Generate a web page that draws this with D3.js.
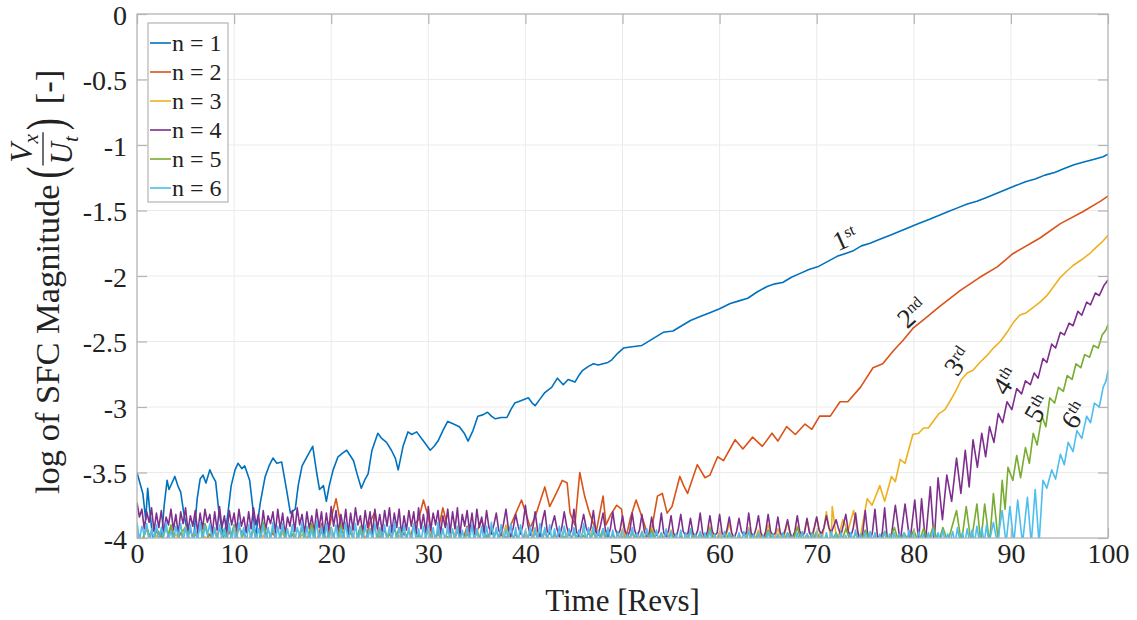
<!DOCTYPE html>
<html><head><meta charset="utf-8">
<script src="https://cdn.jsdelivr.net/npm/d3@7"></script>
<style>
body{margin:0;background:#fff}
svg text{font-family:"Liberation Serif","Times New Roman",serif;fill:#222}
</style>
</head><body>
<svg id="chart" width="1137" height="620"></svg>
<script>
// ---------------- data ----------------
const xTicks = [0,10,20,30,40,50,60,70,80,90,100];
const yTicks = [0,-0.5,-1,-1.5,-2,-2.5,-3,-3.5,-4];
const seriesNames = ["n = 1","n = 2","n = 3","n = 4","n = 5","n = 6"];
const seriesColors = ["#0072BD","#D95319","#EDB120","#7E2F8E","#77AC30","#4DBEEE"];
const ordinalNums = ["1","2","3","4","5","6"];
const ordinalSuffix = ["st","nd","rd","th","th","th"];
const ordinalAt = [[72.9,-1.71],[79.8,-2.28],[84.5,-2.65],[89.4,-2.80],[92.7,-3.01],[96.5,-3.06]];
const ordinalAngle = [-24,-42,-55,-58,-60,-58];

// n = 1 : [rev, log magnitude]
const n1Points = [[0,-3.50],[0.3,-3.58],[0.6,-3.66],[0.9,-3.86],[1.1,-3.62],[1.3,-3.78],[1.6,-3.99],[2.0,-4.03],[2.5,-4.03],[2.8,-3.75],[3.1,-3.56],[3.3,-3.63],[3.6,-3.58],[3.9,-3.53],[4.2,-3.60],[4.5,-3.65],[4.8,-3.80],[5.3,-4.0],[5.8,-4.03],[6.2,-3.70],[6.5,-3.55],[6.8,-3.52],[7.1,-3.58],[7.5,-3.48],[7.8,-3.53],[8.1,-3.57],[8.4,-3.78],[8.9,-4.0],[9.3,-3.85],[9.7,-3.60],[10.1,-3.48],[10.4,-3.43],[10.8,-3.47],[11.1,-3.45],[11.6,-3.56],[11.9,-3.75],[12.2,-4.0],[12.7,-3.73],[13.2,-3.53],[13.6,-3.45],[14.0,-3.39],[14.4,-3.43],[14.9,-3.42],[15.4,-3.63],[15.8,-3.81],[16.3,-3.78],[16.6,-3.60],[17.0,-3.45],[17.5,-3.38],[18.1,-3.30],[18.5,-3.50],[18.8,-3.63],[19.2,-3.60],[19.5,-3.72],[19.8,-3.60],[20.2,-3.48],[20.7,-3.38],[21.2,-3.35],[21.6,-3.33],[22.3,-3.41],[22.7,-3.52],[23.1,-3.62],[23.5,-3.55],[23.8,-3.51],[24.2,-3.33],[24.8,-3.20],[25.2,-3.24],[25.7,-3.27],[26.2,-3.33],[26.6,-3.39],[26.9,-3.48],[27.4,-3.30],[27.9,-3.19],[28.3,-3.21],[28.8,-3.19],[29.5,-3.26],[30.2,-3.33],[30.6,-3.30],[31.0,-3.26],[31.5,-3.18],[32.0,-3.11],[32.6,-3.13],[33.2,-3.15],[33.7,-3.20],[34.1,-3.26],[34.6,-3.18],[35.1,-3.07],[35.6,-3.06],[36.1,-3.04],[36.5,-3.07],[36.9,-3.09],[37.5,-3.08],[38.1,-3.08],[38.5,-3.02],[38.9,-2.97],[39.6,-2.95],[40.3,-2.93],[40.7,-2.97],[41.0,-2.99],[41.5,-2.94],[42.0,-2.89],[42.7,-2.85],[43.3,-2.78],[43.9,-2.83],[44.4,-2.79],[45.1,-2.81],[45.5,-2.76],[45.9,-2.72],[46.5,-2.69],[47.0,-2.67],[47.5,-2.68],[48.0,-2.67],[48.5,-2.66],[48.9,-2.64],[49.5,-2.59],[50.1,-2.55],[51.0,-2.54],[52.0,-2.53],[53.1,-2.48],[54.2,-2.43],[55.2,-2.42],[56.1,-2.38],[57.0,-2.34],[58.0,-2.31],[59.0,-2.28],[60.0,-2.25],[61.1,-2.21],[62.0,-2.19],[62.9,-2.17],[63.9,-2.12],[64.9,-2.08],[65.7,-2.06],[66.5,-2.05],[67.4,-2.01],[68.3,-1.98],[69.2,-1.95],[70.1,-1.93],[71.1,-1.89],[72.1,-1.85],[72.9,-1.83],[73.7,-1.81],[74.6,-1.77],[75.5,-1.75],[76.5,-1.72],[77.5,-1.69],[78.5,-1.66],[79.5,-1.63],[80.5,-1.60],[81.5,-1.57],[82.5,-1.54],[83.5,-1.51],[84.5,-1.48],[85.5,-1.45],[86.5,-1.43],[87.5,-1.40],[88.5,-1.37],[89.5,-1.34],[90.5,-1.31],[91.5,-1.28],[92.5,-1.26],[93.5,-1.23],[94.5,-1.21],[95.5,-1.18],[96.5,-1.15],[97.5,-1.13],[98.5,-1.11],[99.5,-1.09],[100,-1.07]];

// n = 2 : low-level part sampled every half rev from 0, then growth part
const n2LowStep = 0.5;
const n2Low = [-3.97,-4.03,-3.93,-4.04,-3.95,-3.99,-4.02,-3.92,-4.04,-3.96,
-4.03,-3.94,-4.04,-3.91,-4.02,-3.97,-4.04,-3.93,-4.03,-3.95,
-4.04,-3.92,-3.98,-4.03,-3.94,-4.04,-3.90,-4.02,-3.96,-4.04,
-3.93,-4.03,-3.97,-4.04,-3.91,-4.02,-3.94,-4.04,-3.89,-4.03,
-3.85,-3.70,-3.90,-4.03,-3.95,-4.04,-3.92,-4.02,-3.88,-3.80,
-4.02,-3.94,-4.04,-3.93,-4.03,-3.96,-4.04,-3.90,-3.86,-3.71,
-3.84,-4.03,-3.95,-3.77,-3.92,-4.04,-3.94,-4.03,-3.91,-4.04,
-3.95,-3.86,-4.02,-3.93,-4.04,-3.97,-4.03,-3.90];
const n2Rise = [[39.6,-3.71],[40.0,-3.80],[40.5,-3.92],[41.0,-3.84],[42.0,-3.61],[42.5,-3.76],[43.3,-3.64],[43.8,-3.56],[44.3,-3.58],[44.6,-3.81],[45.1,-3.90],[45.6,-3.50],[46.1,-3.68],[46.6,-3.81],[47.3,-3.95],[48.0,-3.68],[48.3,-3.90],[48.8,-3.82],[49.4,-3.75],[49.9,-3.78],[50.3,-4.02],[50.8,-3.85],[51.4,-3.71],[52.1,-3.86],[52.8,-4.02],[53.6,-3.68],[54.1,-3.66],[54.6,-3.81],[55.1,-3.76],[55.9,-3.53],[56.3,-3.60],[56.7,-3.66],[57.7,-3.44],[58.5,-3.54],[59.0,-3.52],[59.8,-3.38],[60.4,-3.41],[61.6,-3.25],[62.4,-3.32],[63.4,-3.23],[64.4,-3.30],[65.4,-3.20],[66.0,-3.26],[66.9,-3.15],[67.8,-3.21],[68.8,-3.13],[69.5,-3.17],[70.3,-3.07],[71.4,-3.07],[72.4,-2.96],[73.2,-2.96],[74.5,-2.85],[75.8,-2.70],[76.8,-2.67],[77.9,-2.57],[78.9,-2.49],[79.9,-2.40],[81.4,-2.31],[82.7,-2.23],[84.8,-2.11],[86.8,-2.01],[88.6,-1.93],[90.2,-1.83],[93.0,-1.71],[95.1,-1.60],[97.4,-1.51],[99.2,-1.43],[100,-1.39]];

// n = 3
const n3LowStep = 0.5;
const n3Low = [-3.96,-4.03,-3.92,-4.04,-3.98,-4.02,-3.93,-4.04,-3.97,-4.03,
-3.91,-4.04,-3.95,-4.02,-3.99,-4.04,-3.93,-4.03,-3.96,-4.04,
-3.90,-4.03,-3.97,-4.04,-3.94,-4.02,-3.98,-4.04,-3.92,-4.03,
-3.96,-4.04,-3.93,-4.03,-3.97,-4.04,-3.91,-4.02,-3.95,-4.04,
-3.94,-4.03,-3.98,-4.04,-3.92,-4.03,-3.96,-4.04,-3.93,-4.02,
-3.97,-4.04,-3.95,-4.03,-3.98,-4.04,-3.94,-4.03,-3.96,-4.04,
-3.92,-4.03,-3.97,-4.04,-3.95,-4.02,-3.91,-4.04,-3.96,-4.03,
-3.93,-4.04,-3.98,-4.03,-3.94,-4.04,-3.90,-4.02,-3.97,-4.04,
-3.95,-4.03,-3.92,-4.04,-3.96,-4.03,-3.99,-4.04,-3.93,-4.02,
-3.97,-4.04,-3.94,-4.03,-3.91,-4.04,-3.96,-4.03,-3.98,-4.04,
-3.93,-4.02,-3.97,-4.04,-3.95,-4.03,-3.92,-4.04,-3.96,-4.03,
-3.94,-4.04,-3.98,-4.03,-3.93,-4.04,-3.96,-4.02,-3.91,-4.04,
-3.95,-4.03,-3.89,-4.04,-3.97,-4.03,-3.92,-4.04,-3.94,-4.03,
-3.90,-4.04,-3.93,-4.03,-3.88,-4.04,-3.91,-4.03,-3.86,-4.02,
-3.84,-4.04,-3.80,-4.03];
const n3Rise = [[71.6,-3.76],[72.1,-4.03],[72.7,-3.86],[73.2,-3.95],[73.8,-3.79],[74.4,-4.03],[75.2,-3.70],[75.7,-3.75],[76.5,-3.60],[77.0,-3.72],[77.7,-3.53],[78.1,-3.57],[78.6,-3.40],[79.1,-3.43],[79.9,-3.21],[80.5,-3.20],[81.0,-3.16],[81.5,-3.16],[82.1,-3.10],[82.6,-3.05],[83.2,-3.02],[83.7,-2.96],[84.3,-2.88],[84.9,-2.79],[85.5,-2.74],[86.1,-2.72],[86.8,-2.66],[87.5,-2.61],[88.2,-2.55],[88.9,-2.50],[89.6,-2.43],[90.3,-2.35],[90.9,-2.30],[91.6,-2.28],[92.3,-2.24],[93.0,-2.20],[93.7,-2.15],[94.4,-2.08],[95.1,-2.01],[95.8,-1.96],[96.4,-1.92],[97.2,-1.88],[98.1,-1.83],[98.8,-1.78],[99.4,-1.74],[100,-1.69]];

// n = 4 : sampled every quarter rev
const n4LowStep = 0.25;
const n4Low = [-3.73,-3.84,-3.78,-3.93,-3.80,-3.88,-3.77,-3.95,
-3.81,-3.92,-3.79,-3.96,-3.84,-3.90,-3.78,-3.94,
-3.82,-3.97,-3.80,-3.89,-3.77,-3.95,-3.83,-3.91,
-3.79,-3.96,-3.81,-3.93,-3.78,-3.88,-3.82,-3.97,
-3.80,-3.94,-3.76,-3.92,-3.83,-3.97,-3.79,-3.90,
-3.81,-3.95,-3.78,-3.91,-3.84,-3.96,-3.80,-3.93,
-3.77,-3.90,-3.82,-3.97,-3.79,-3.94,-3.83,-3.89,
-3.80,-3.96,-3.78,-3.93,-3.81,-3.98,-3.84,-3.91,
-3.79,-3.95,-3.77,-3.90,-3.82,-3.97,-3.80,-3.93,
-3.83,-3.96,-3.78,-3.92,-3.80,-3.98,-3.81,-3.94,
-3.76,-3.91,-3.79,-3.96,-3.82,-3.93,-3.78,-3.97,
-3.81,-3.94,-3.77,-3.90,-3.83,-3.96,-3.79,-3.92,
-3.80,-3.97,-3.78,-3.93,-3.82,-3.95,-3.79,-3.91,
-3.77,-3.96,-3.81,-3.92,-3.78,-3.98,-3.83,-3.94,
-3.79,-3.91,-3.80,-3.97,-3.77,-3.93,-3.82,-3.96,
-3.76,-3.94,-3.81,-3.90,-3.79,-3.97,-3.83,-3.92,
-3.78,-3.96,-3.80,-3.93,-3.77,-3.98,-3.82,-3.91,
-3.79,-3.95,-3.81,-3.97,-3.78,-3.92,-3.84,-3.96,
-3.79,-3.92,-3.97,-3.90,-3.81,-3.94,-3.98,-3.89,
-3.78,-3.93,-3.99,-3.92,-3.82,-3.91,-3.97,-3.90,
-3.75,-3.90,-3.98,-3.93,-3.80,-3.94,-3.99,-3.87,
-3.79,-3.95,-3.97,-3.90,-3.83,-3.93,-3.99,-3.92,
-3.80,-3.91,-3.98,-3.94,-3.78,-3.95,-3.99,-3.91,
-3.82,-3.92,-3.97,-3.92,-3.79,-3.95,-3.98,-3.90,
-3.81,-3.94,-3.99,-3.93,-3.80,-3.93,-3.98,-3.94,
-3.83,-3.94,-3.99,-3.95,-3.81,-3.94,-3.99,-3.94,
-3.82,-3.95,-3.99,-3.96,-3.84,-3.94,-3.98,-3.95,
-3.81,-3.96,-3.99,-3.94,-3.83,-3.96,-4.00,-3.93,
-3.82,-3.95,-3.98,-3.96,-3.85,-3.96,-3.99,-3.94,
-3.81,-3.96,-4.00,-3.95,-3.83,-3.95,-3.98,-3.96,
-3.82,-3.96,-3.99,-3.94,-3.84,-3.96,-4.00,-3.95,
-3.85,-3.95,-3.98,-3.96,-3.81,-3.96,-3.99,-3.93,
-3.83,-3.96,-4.00,-3.95,-3.82,-3.95,-3.98,-3.96,
-3.84,-3.96,-3.99,-3.94,-3.86,-3.96,-4.00,-3.95,
-3.83,-3.95,-3.98,-3.96,-3.85,-3.96,-3.99,-3.92,
-3.84,-3.94,-3.97,-3.92,-3.83,-3.92,-3.96,-3.91,
-3.86,-3.93,-3.98,-3.90,-3.82,-3.95,-3.99,-3.93,
-3.81,-3.96,-4.02,-3.96,-3.79,-3.97,-4.03,-3.95,
-3.78,-3.98,-4.03,-3.96,-3.77,-3.99,-4.03,-3.95];
const n4Rise = [[78.1,-3.75],[78.6,-4.03],[79.1,-3.74],[79.6,-4.03],[80.1,-3.71],[80.5,-4.03],[80.8,-3.70],[81.2,-4.03],[81.7,-3.61],[82.1,-4.03],[82.5,-3.54],[82.95,-3.86],[83.4,-3.52],[83.9,-3.72],[84.4,-3.39],[84.85,-3.66],[85.3,-3.33],[85.7,-3.61],[86.1,-3.25],[86.55,-3.46],[87.0,-3.20],[87.4,-3.38],[87.8,-3.15],[88.25,-3.27],[88.7,-3.05],[89.15,-3.12],[89.6,-2.96],[90.1,-3.02],[90.6,-2.86],[91.1,-2.90],[91.5,-2.80],[92.0,-2.83],[92.4,-2.74],[92.8,-2.78],[93.3,-2.63],[93.7,-2.66],[94.2,-2.52],[94.6,-2.55],[95.1,-2.43],[95.5,-2.45],[96.0,-2.36],[96.4,-2.38],[96.9,-2.27],[97.3,-2.30],[97.8,-2.20],[98.2,-2.22],[98.7,-2.13],[99.1,-2.15],[99.6,-2.07],[100,-2.03]];

// n = 5
const n5LowStep = 0.5;
const n5Low = [-3.95,-4.03,-3.91,-4.04,-3.93,-3.98,-4.03,-3.90,-4.04,-3.96,
-3.92,-4.03,-3.97,-4.04,-3.89,-4.02,-3.95,-4.04,-3.93,-4.03,
-3.90,-4.04,-3.96,-4.03,-3.92,-4.04,-3.88,-4.02,-3.94,-4.04,
-3.91,-4.03,-3.97,-4.04,-3.93,-4.02,-3.89,-4.04,-3.95,-4.03,
-3.92,-4.04,-3.90,-4.03,-3.96,-4.04,-3.91,-4.02,-3.94,-4.04,
-3.93,-4.03,-3.97,-4.04,-3.92,-4.02,-3.95,-4.04,-3.98,-4.03,
-3.94,-4.04,-3.96,-4.03,-3.99,-4.04,-3.95,-4.03,-3.97,-4.04,
-3.96,-4.02,-3.98,-4.04,-3.95,-4.03,-3.99,-4.04,-3.97,-4.03,
-3.98,-4.04,-3.96,-4.03,-3.94,-4.04,-3.97,-4.03,-3.99,-4.04,
-3.95,-4.03,-3.98,-4.04,-3.96,-4.03,-3.93,-4.04,-3.97,-4.03,
-3.99,-4.04,-3.95,-4.03,-3.97,-4.04,-3.94,-4.03,-3.98,-4.04,
-3.96,-4.03,-3.99,-4.04,-3.95,-4.03,-3.97,-4.04,-3.93,-4.03,
-3.98,-4.04,-3.96,-4.03,-3.99,-4.04,-3.95,-4.03,-3.97,-4.04,
-3.94,-4.03,-3.98,-4.04,-3.96,-4.03,-3.92,-4.04,-3.97,-4.03,
-3.95,-4.04,-3.99,-4.03,-3.96,-4.04,-3.93,-4.03,-3.97,-4.04,
-3.94,-4.03,-3.98,-4.04,-3.95,-4.03,-3.92,-4.04,-3.96,-4.03,
-3.94,-4.04,-3.93,-4.03,-3.91,-4.04,-3.92,-4.03];
const n5Rise = [[84.4,-3.79],[84.9,-4.04],[85.4,-3.76],[85.9,-4.04],[86.5,-3.74],[86.9,-4.04],[87.3,-3.74],[87.8,-4.04],[88.2,-3.66],[88.7,-4.03],[89.1,-3.56],[89.4,-3.78],[89.7,-3.46],[90.2,-3.56],[90.6,-3.37],[91.0,-3.54],[91.5,-3.31],[91.9,-3.43],[92.3,-3.20],[92.7,-3.29],[93.2,-3.07],[93.6,-3.15],[94.0,-2.93],[94.5,-2.97],[94.9,-2.85],[95.4,-2.88],[95.8,-2.76],[96.3,-2.79],[96.7,-2.67],[97.2,-2.70],[97.6,-2.60],[98.1,-2.62],[98.5,-2.53],[99.0,-2.55],[99.4,-2.45],[99.8,-2.41],[100,-2.37]];

// n = 6 : sampled every quarter rev
const n6LowStep = 0.25;
const n6Low = [-3.88,-4.02,-3.91,-3.98,-3.89,-4.03,-3.93,-4.01,
-3.90,-4.03,-3.92,-3.99,-3.88,-4.02,-3.94,-4.03,
-3.91,-3.99,-3.89,-4.03,-3.92,-4.01,-3.90,-4.04,
-3.93,-4.02,-3.88,-4.03,-3.91,-3.98,-3.89,-4.02,
-3.92,-4.03,-3.90,-4.01,-3.93,-4.04,-3.89,-4.02,
-3.91,-4.03,-3.88,-3.99,-3.92,-4.04,-3.90,-4.02,
-3.89,-4.03,-3.93,-4.00,-3.90,-4.04,-3.92,-4.01,
-3.88,-4.03,-3.91,-4.02,-3.89,-4.04,-3.93,-4.02,
-3.90,-4.03,-3.92,-3.99,-3.88,-4.04,-3.91,-4.02,
-3.93,-4.03,-3.87,-4.02,-3.91,-4.04,-3.89,-4.03,
-3.92,-4.01,-3.90,-4.04,-3.93,-4.02,-3.88,-4.03,
-3.91,-4.02,-3.89,-4.04,-3.92,-4.03,-3.90,-4.01,
-3.93,-4.02,-3.89,-4.04,-3.92,-4.03,-3.90,-4.02,
-3.91,-4.03,-3.87,-4.04,-3.92,-4.02,-3.90,-4.03,
-3.92,-4.04,-3.89,-4.02,-3.93,-4.03,-3.91,-4.01,
-3.90,-4.03,-3.92,-4.04,-3.88,-4.02,-3.93,-4.03,
-3.90,-4.03,-3.93,-4.02,-3.91,-4.04,-3.94,-4.03,
-3.92,-4.02,-3.90,-4.03,-3.93,-4.04,-3.91,-4.03,
-3.91,-4.04,-3.88,-4.02,-3.92,-4.03,-3.90,-4.04,
-3.93,-4.02,-3.89,-4.03,-3.92,-4.04,-3.90,-4.02,
-3.94,-4.03,-3.91,-4.04,-3.93,-4.02,-3.89,-4.03,
-3.92,-4.04,-3.90,-4.03,-3.93,-4.02,-3.91,-4.04,
-3.91,-4.03,-3.93,-4.04,-3.92,-4.02,-3.94,-4.03,
-3.89,-4.04,-3.92,-4.03,-3.91,-4.04,-3.94,-4.03,
-3.93,-4.04,-3.92,-4.03,-3.94,-4.04,-3.95,-4.03,
-3.94,-4.03,-3.97,-4.04,-3.92,-4.02,-3.96,-4.04,
-3.95,-4.04,-3.93,-4.03,-3.96,-4.04,-3.94,-4.03,
-3.96,-4.04,-3.93,-4.03,-3.95,-4.04,-3.97,-4.03,
-3.94,-4.04,-3.96,-4.03,-3.93,-4.04,-3.97,-4.03,
-3.95,-4.04,-3.96,-4.03,-3.94,-4.04,-3.97,-4.04,
-3.97,-4.03,-3.95,-4.04,-3.96,-4.03,-3.98,-4.04,
-3.96,-4.04,-3.95,-4.03,-3.94,-4.04,-3.97,-4.04,
-3.96,-4.03,-3.98,-4.04,-3.95,-4.03,-3.97,-4.04,
-3.97,-4.04,-3.96,-4.04,-3.96,-4.03,-3.98,-4.04,
-3.96,-4.04,-3.95,-4.03,-3.97,-4.04,-3.96,-4.03,
-3.96,-4.04,-3.97,-4.03,-3.96,-4.04,-3.95,-4.03,
-3.97,-4.04,-3.96,-4.03,-3.98,-4.04,-3.96,-4.03,
-3.94,-4.04,-3.97,-4.03,-3.96,-4.04,-3.95,-4.03,
-3.96,-4.04,-3.97,-4.03,-3.95,-4.04,-3.97,-4.03,
-3.96,-4.04,-3.97,-4.03,-3.96,-4.04,-3.94,-4.03,
-3.97,-4.04,-3.95,-4.03,-3.97,-4.04,-3.96,-4.03,
-3.93,-4.04,-3.96,-4.03,-3.94,-4.04,-3.97,-4.03,
-3.95,-4.04,-3.92,-4.03,-3.96,-4.04,-3.93,-4.03,
-3.94,-4.04,-3.91,-4.03,-3.92,-4.04,-3.90,-4.04];
const n6Rise = [[88.2,-3.88],[88.6,-4.04],[89.1,-3.79],[89.5,-4.04],[89.9,-3.76],[90.3,-4.04],[90.7,-3.71],[91.2,-4.04],[91.7,-3.69],[92.1,-4.04],[92.5,-3.63],[92.9,-4.04],[93.3,-3.56],[93.7,-3.62],[94.2,-3.48],[94.6,-3.55],[95.1,-3.36],[95.5,-3.44],[95.9,-3.27],[96.4,-3.34],[96.8,-3.18],[97.3,-3.24],[97.8,-3.07],[98.2,-3.12],[98.6,-2.97],[99.1,-3.00],[99.5,-2.85],[99.8,-2.80],[100,-2.72]];

// ---------------- build series ----------------
function joinSeries(low, step, rise){
  return low.map((v,i)=>[i*step, v]).concat(rise);
}
const allSeries = [
  n1Points,
  joinSeries(n2Low, n2LowStep, n2Rise),
  joinSeries(n3Low, n3LowStep, n3Rise),
  joinSeries(n4Low, n4LowStep, n4Rise),
  joinSeries(n5Low, n5LowStep, n5Rise),
  joinSeries(n6Low, n6LowStep, n6Rise)
];

// ---------------- layout ----------------
const L = 137, R = 1108, T = 14, B = 538;
const FONT = '"Liberation Serif","Times New Roman",serif';
const svg = d3.select("#chart");
const x = d3.scaleLinear().domain([0,100]).range([L,R]);
const y = d3.scaleLinear().domain([-4,0]).range([B,T]);

svg.append("defs").append("clipPath").attr("id","plotClip")
  .append("rect").attr("x",L).attr("y",T).attr("width",R-L).attr("height",B-T);

// grid
const grid = svg.append("g");
grid.selectAll(".gx").data(xTicks).join("line")
  .attr("x1",d=>x(d)).attr("x2",d=>x(d)).attr("y1",T).attr("y2",B)
  .attr("stroke","#ebebeb").attr("stroke-width",1);
grid.selectAll(".gy").data(yTicks).join("line")
  .attr("y1",d=>y(d)).attr("y2",d=>y(d)).attr("x1",L).attr("x2",R)
  .attr("stroke","#ebebeb").attr("stroke-width",1);

// lines
const line = d3.line().x(d=>x(d[0])).y(d=>y(d[1]));
const lineG = svg.append("g").attr("clip-path","url(#plotClip)");
allSeries.forEach((s,i)=>{
  lineG.append("path").datum(s).attr("d",line)
    .attr("fill","none").attr("stroke",seriesColors[i])
    .attr("stroke-width",1.6).attr("stroke-linejoin","round");
});

// axes
const tickCol = "#b4b4b4";
function styleAxis(g){
  g.attr("font-family",null).attr("font-size",null);
  g.select(".domain").remove();
  g.selectAll(".tick line").attr("stroke",tickCol).attr("stroke-width",1.2);
  g.selectAll(".tick text").attr("fill","#222").style("font-family",FONT).style("font-size","28px");
}
svg.append("g").attr("transform",`translate(0,${B})`)
  .call(d3.axisBottom(x).tickValues(xTicks).tickSizeInner(-10).tickSizeOuter(0).tickPadding(5).tickFormat(d=>String(d)))
  .call(styleAxis);
const yAxisG = svg.append("g").attr("transform",`translate(${L},0)`)
  .call(d3.axisLeft(y).tickValues(yTicks).tickSizeInner(-10).tickSizeOuter(0).tickPadding(10).tickFormat(d=>String(d)))
  .call(styleAxis);
yAxisG.selectAll(".tick text").attr("dy","0.36em");
svg.append("g").attr("transform",`translate(0,${T})`)
  .call(d3.axisTop(x).tickValues(xTicks).tickSizeInner(-10).tickSizeOuter(0).tickFormat(""))
  .call(styleAxis);
svg.append("g").attr("transform",`translate(${R},0)`)
  .call(d3.axisRight(y).tickValues(yTicks).tickSizeInner(-10).tickSizeOuter(0).tickFormat(""))
  .call(styleAxis);
svg.append("rect").attr("x",L).attr("y",T).attr("width",R-L).attr("height",B-T)
  .attr("fill","none").attr("stroke",tickCol).attr("stroke-width",1.2);

// x label
svg.append("text").attr("x",(L+R)/2).attr("y",611).attr("text-anchor","middle")
  .style("font-size","31px").text("Time [Revs]");

// y label (rotated, with fraction)
const yl = svg.append("g").attr("transform","translate(59,494) rotate(-90)");
const t1 = yl.append("text").attr("x",0).attr("y",0).style("font-size","34.5px").text("log of SFC Magnitude");
let cx = t1.node().getComputedTextLength() + 6;
const lp = yl.append("text").attr("transform",`translate(${cx},4) scale(1,1.45)`).style("font-size","36px").text("(");
cx += lp.node().getComputedTextLength() + 2;
const num = yl.append("text").attr("x",cx+2).attr("y",-27).style("font-size","31px").style("font-style","italic");
num.append("tspan").text("V");
num.append("tspan").attr("dy",6).style("font-size","21px").text("x");
const den = yl.append("text").attr("x",cx).attr("y",13).style("font-size","31px").style("font-style","italic");
den.append("tspan").text("U");
den.append("tspan").attr("dy",6).style("font-size","21px").text("t");
const fw = Math.max(num.node().getComputedTextLength()+2, den.node().getComputedTextLength()) + 2;
yl.append("line").attr("x1",cx-1).attr("x2",cx+fw).attr("y1",-16).attr("y2",-16).attr("stroke","#222").attr("stroke-width",1.3);
cx += fw + 2;
const rp = yl.append("text").attr("transform",`translate(${cx},4) scale(1,1.45)`).style("font-size","36px").text(")");
cx += rp.node().getComputedTextLength() + 14;
yl.append("text").attr("x",cx).attr("y",0).style("font-size","34.5px").text("[-]");

// ordinal annotations
ordinalNums.forEach((n,i)=>{
  const [tx,ty] = ordinalAt[i];
  const t = svg.append("text")
    .attr("transform",`translate(${x(tx)},${y(ty)}) rotate(${ordinalAngle[i]})`)
    .attr("text-anchor","middle").attr("dy","0.35em").style("font-size","27px").attr("fill","#111");
  t.append("tspan").text(n);
  t.append("tspan").attr("dy","-0.55em").style("font-size","16px").text(ordinalSuffix[i]);
});

// legend
const lg = svg.append("g");
lg.append("rect").attr("x",148).attr("y",23).attr("width",80).attr("height",179)
  .attr("fill","#fff").attr("stroke","#b4b4b4").attr("stroke-width",1.2);
seriesNames.forEach((nm,i)=>{
  const yy = 43 + i*29;
  lg.append("line").attr("x1",150).attr("x2",171).attr("y1",yy).attr("y2",yy)
    .attr("stroke",seriesColors[i]).attr("stroke-width",1.6);
  lg.append("text").attr("x",172).attr("y",yy).attr("dy","0.33em").style("font-size","24px").text(nm);
});
</script>
</body></html>
